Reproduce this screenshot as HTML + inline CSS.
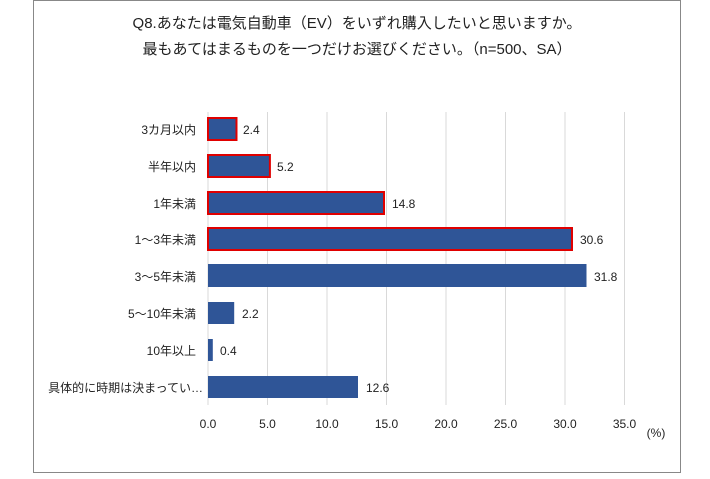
<!DOCTYPE html>
<html><head><meta charset="utf-8"><style>
body{margin:0;background:#fff;width:710px;height:474px;overflow:hidden}
</style></head><body>
<svg width="710" height="474" xmlns="http://www.w3.org/2000/svg" font-family="'Liberation Sans','Noto Sans CJK JP',sans-serif">
<rect x="33.5" y="0.5" width="647" height="472" fill="#fff" stroke="#888" stroke-width="1"/>
<text x="357" y="28" font-size="15" text-anchor="middle" fill="#222">Q8.あなたは電気自動車（EV）をいずれ購入したいと思いますか。</text>
<text x="357" y="54" font-size="15" text-anchor="middle" fill="#222">最もあてはまるものを一つだけお選びください。（n=500、SA）</text>
<g stroke="#d9d9d9" stroke-width="1">
<line x1="267.5" y1="112" x2="267.5" y2="405"/>
<line x1="327" y1="112" x2="327" y2="405"/>
<line x1="386.5" y1="112" x2="386.5" y2="405"/>
<line x1="446" y1="112" x2="446" y2="405"/>
<line x1="505.5" y1="112" x2="505.5" y2="405"/>
<line x1="565" y1="112" x2="565" y2="405"/>
<line x1="624.5" y1="112" x2="624.5" y2="405"/>
<line x1="208" y1="112" x2="208" y2="405"/>
</g>
<g fill="#2F5597">
<rect x="208" y="118" width="28.5" height="22" stroke="#E00000" stroke-width="2"/>
<rect x="208" y="155" width="61.9" height="22" stroke="#E00000" stroke-width="2"/>
<rect x="208" y="192" width="176" height="22" stroke="#E00000" stroke-width="2"/>
<rect x="208" y="228" width="364" height="22" stroke="#E00000" stroke-width="2"/>
<rect x="208" y="264" width="378.5" height="23"/>
<rect x="208" y="302" width="26.2" height="22"/>
<rect x="208" y="339" width="4.8" height="22"/>
<rect x="208" y="376" width="150" height="22"/>
</g>
<g font-size="12" fill="#222">
<text x="243" y="134">2.4</text>
<text x="277" y="171">5.2</text>
<text x="392" y="208">14.8</text>
<text x="580" y="244">30.6</text>
<text x="594" y="281">31.8</text>
<text x="242" y="318">2.2</text>
<text x="220" y="355">0.4</text>
<text x="366" y="392">12.6</text>
</g>
<g font-size="12" fill="#222" text-anchor="end">
<text x="196" y="134">3カ月以内</text>
<text x="196" y="171">半年以内</text>
<text x="196" y="208">1年未満</text>
<text x="196" y="244">1～3年未満</text>
<text x="196" y="281">3～5年未満</text>
<text x="196" y="318">5～10年未満</text>
<text x="196" y="355">10年以上</text>
<text x="203" y="392">具体的に時期は決まってい…</text>
</g>
<g font-size="12" fill="#222" text-anchor="middle">
<text x="208" y="428">0.0</text>
<text x="267.5" y="428">5.0</text>
<text x="327" y="428">10.0</text>
<text x="386.5" y="428">15.0</text>
<text x="446" y="428">20.0</text>
<text x="505.5" y="428">25.0</text>
<text x="565" y="428">30.0</text>
<text x="624.5" y="428">35.0</text>
<text x="656" y="437">(%)</text>
</g>
</svg>
</body></html>
